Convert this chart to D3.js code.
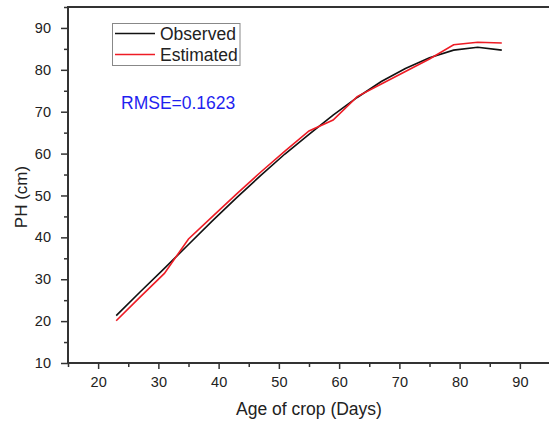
<!DOCTYPE html>
<html>
<head>
<meta charset="utf-8">
<script src="https://cdn.jsdelivr.net/npm/d3@7"></script>
<style>
  body { margin: 0; background: #fff; }
  text { font-family: "Liberation Sans", Arial, sans-serif; fill: #222; }
</style>
</head>
<body>
<div id="chart"></div>
<script>
// data
let days = [23, 27, 31, 35, 39, 43, 47, 51, 55, 59, 63, 67, 71, 75, 79, 83, 87];
let observed = [21.3, 27.0, 32.6, 38.3, 44.0, 49.5, 54.8, 59.9, 64.6, 69.2, 73.4, 77.2, 80.3, 82.9, 84.7, 85.4, 84.7];
let estimated = [20.1, 25.8, 31.4, 39.6, 45.0, 50.4, 55.6, 60.6, 65.4, 68.0, 73.6, 76.6, 79.6, 82.6, 86.0, 86.6, 86.4];
let xTicks = [20, 30, 40, 50, 60, 70, 80, 90];
let yTicks = [10, 20, 30, 40, 50, 60, 70, 80, 90];

let width = 549;
let height = 427;
let plotLeft = 68, plotTop = 7, plotRight = 550, plotBottom = 363;

let svg = d3.select('#chart')
  .append('svg')
  .attr('width', width)
  .attr('height', height);

let x = d3.scaleLinear().domain([15, 95]).range([plotLeft, plotRight]);
let y = d3.scaleLinear().domain([10, 95]).range([plotBottom, plotTop]);

// minor ticks first, then major
let xMinor = d3.range(15, 96, 10);
let yMinor = d3.range(15, 96, 10);

let gx = svg.append('g').attr('transform', 'translate(0,' + plotBottom + ')');
gx.call(d3.axisBottom(x).tickValues(xMinor).tickSize(4).tickFormat(''));
gx.append('g').call(d3.axisBottom(x).tickValues(xTicks).tickSize(6).tickPadding(8));

let gy = svg.append('g').attr('transform', 'translate(' + plotLeft + ',0)');
gy.call(d3.axisLeft(y).tickValues(yMinor).tickSize(4).tickFormat(''));
gy.append('g').call(d3.axisLeft(y).tickValues(yTicks).tickSize(7).tickPadding(10));

svg.selectAll('.domain').remove();
svg.selectAll('.tick line').attr('stroke', '#333').attr('stroke-width', 1.5);
svg.selectAll('.tick text')
  .style('font-size', '14.5px')
  .style('font-family', '"Liberation Sans", Arial, sans-serif')
  .attr('fill', '#222');

// frame
svg.append('rect')
  .attr('x', plotLeft)
  .attr('y', plotTop)
  .attr('width', plotRight - plotLeft)
  .attr('height', plotBottom - plotTop)
  .attr('fill', 'none')
  .attr('stroke', '#333')
  .attr('stroke-width', 2);

let line = d3.line()
  .x((d, i) => x(days[i]))
  .y(d => y(d));

svg.append('path')
  .datum(observed)
  .attr('d', line)
  .attr('fill', 'none')
  .attr('stroke', '#111')
  .attr('stroke-width', 1.6);

svg.append('path')
  .datum(estimated)
  .attr('d', line)
  .attr('fill', 'none')
  .attr('stroke', '#ee1c25')
  .attr('stroke-width', 1.6);

// legend
let legend = svg.append('g');
legend.append('rect')
  .attr('x', 112.5).attr('y', 23.5)
  .attr('width', 127.5).attr('height', 42)
  .attr('fill', '#fff')
  .attr('stroke', '#888')
  .attr('stroke-width', 1);

let series = [
  { label: 'Observed', color: '#111' },
  { label: 'Estimated', color: '#ee1c25' }
];
series.forEach((s, i) => {
  let ly = 33.5 + i * 21;
  legend.append('line')
    .attr('x1', 115).attr('x2', 155)
    .attr('y1', ly).attr('y2', ly)
    .attr('stroke', s.color)
    .attr('stroke-width', 1.6);
  legend.append('text')
    .attr('x', 160)
    .attr('y', ly + 6)
    .style('font-size', '17.5px')
    .text(s.label);
});

svg.append('text')
  .attr('x', 121)
  .attr('y', 108.5)
  .style('font-size', '17.5px')
  .style('fill', '#1f1ff0')
  .text('RMSE=0.1623');

// axis titles
svg.append('text')
  .attr('x', 309)
  .attr('y', 415)
  .attr('text-anchor', 'middle')
  .style('font-size', '17.5px')
  .text('Age of crop (Days)');

svg.append('text')
  .attr('transform', 'translate(27,197) rotate(-90)')
  .attr('text-anchor', 'middle')
  .style('font-size', '17px')
  .text('PH (cm)');
</script>
</body>
</html>
